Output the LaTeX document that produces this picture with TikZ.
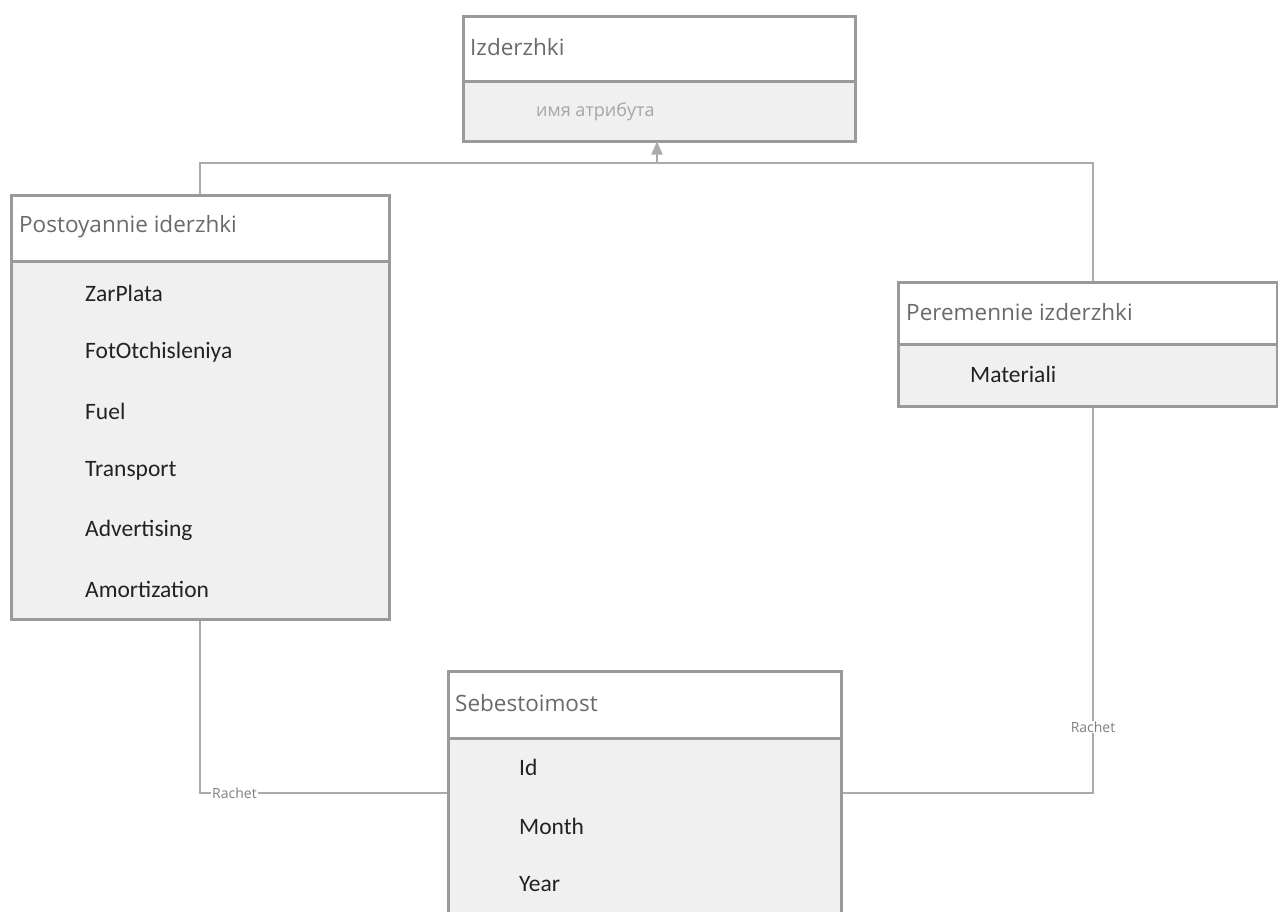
\documentclass[tikz,border=0pt]{standalone}
\usepackage{fontspec}
\setmainfont{Carlito}
\newfontfamily\titlefont{Open Sans}
\usetikzlibrary{arrows.meta,calc}

\definecolor{boxline}{HTML}{9A9A9A}
\definecolor{bodyfill}{HTML}{F0F0F0}
\definecolor{titlegray}{HTML}{6A6A6A}
\definecolor{itemdark}{HTML}{222222}
\definecolor{connline}{HTML}{ABABAB}

\tikzset{
  hdr/.style={draw=boxline, line width=3pt, fill=white, anchor=north west, inner sep=0pt},
  bdy/.style={draw=boxline, line width=3pt, fill=bodyfill, anchor=north west, inner sep=0pt},
  ttl/.style={anchor=west, inner sep=0pt, text=titlegray, font=\titlefont\fontsize{22.5}{25}\selectfont},
  itm/.style={anchor=west, inner sep=0pt, text=itemdark, font=\fontsize{23.5}{26}\selectfont},
  hint/.style={anchor=west, inner sep=0pt, text=gray!70, font=\titlefont\fontsize{18}{20}\selectfont},
  conn/.style={draw=connline, line width=1.8pt},
  rel/.style={fill=white, inner sep=1pt, text=gray, font=\titlefont\fontsize{14}{16}\selectfont}
}

\begin{document}
\begin{tikzpicture}[x=1pt,y=-1pt]
\useasboundingbox (0,0) rectangle (1278,911);
\clip (0,0) rectangle (1278,911);

% Izderzhki (parent class)
\node[bdy, minimum width=392pt, minimum height=60pt] (izhb) at (462,80) {};
\node[hdr, minimum width=392pt, minimum height=65pt] (izh) at (462,15) {};
\node[ttl] (izht) at (470,47) {Izderzhki};
\node[hint] (izha) at (536,112) {имя атрибута};

% Postoyannie iderzhki
\node[bdy, minimum width=378pt, minimum height=358pt] (postb) at (10,260) {};
\node[hdr, minimum width=378pt, minimum height=66pt] (post) at (10,194) {};
\node[ttl] (postt) at (19,227) {Postoyannie iderzhki};
\node[itm] (p1) at (85,293) {ZarPlata};
\node[itm] (p2) at (85,352) {FotOtchisleniya};
\node[itm] (p3) at (85,411) {Fuel};
\node[itm] (p4) at (85,471) {Transport};
\node[itm] (p5) at (85,530) {Advertising};
\node[itm] (p6) at (85,589) {Amortization};

% Peremennie izderzhki
\node[bdy, minimum width=379pt, minimum height=62pt] (perb) at (897,343) {};
\node[hdr, minimum width=379pt, minimum height=62pt] (per) at (897,281) {};
\node[ttl] (pert) at (906,312) {Peremennie izderzhki};
\node[itm] (m1) at (970,374) {Materiali};

% Sebestoimost
\node[bdy, minimum width=393pt, minimum height=220pt] (sebb) at (447,737) {};
\node[hdr, minimum width=393pt, minimum height=67pt] (seb) at (447,670) {};
\node[ttl] (sebt) at (455,703) {Sebestoimost};
\node[itm] (s1) at (519,767) {Id};
\node[itm] (s2) at (519,826) {Month};
\node[itm] (s3) at (519,884) {Year};

% generalisation connectors
\coordinate (jL) at (200,163);
\coordinate (jM) at (657,163);
\coordinate (jR) at (1093,163);
\draw[conn] (post.north -| jL) -- (jL) -- (jR) -- (jR |- per.north);
\draw[conn, -{Triangle[width=11pt,length=13pt]}, connline] (jM) -- ([yshift=1.5pt]jM |- izhb.south);

% association connectors
\coordinate (bL) at (200,793);
\coordinate (bR) at (1093,793);
\draw[conn] (postb.south -| bL) -- (bL) -- (bL -| sebb.west);
\draw[conn] (perb.south -| bR) -- (bR) -- (bR -| sebb.east);
\node[rel, anchor=west] (r1) at (211,793) {Rachet};
\node[rel] (r2) at (1093,727) {Rachet};
\end{tikzpicture}
\end{document}
